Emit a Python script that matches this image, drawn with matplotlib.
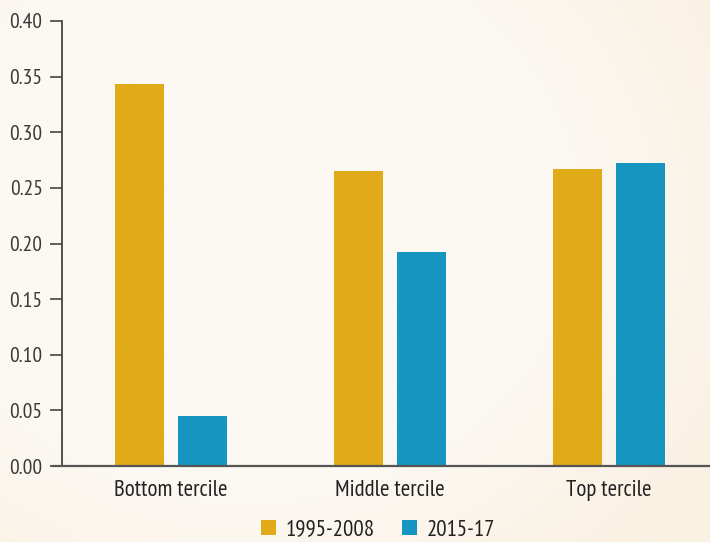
import matplotlib
matplotlib.use("Agg")
import matplotlib.pyplot as plt
import numpy as np

categories = ["Bottom tercile", "Middle tercile", "Top tercile"]
series_names = ["1995-2008", "2015-17"]
values_1995_2008 = [0.343, 0.265, 0.267]
values_2015_17 = [0.045, 0.192, 0.272]
yticks = [0.00, 0.05, 0.10, 0.15, 0.20, 0.25, 0.30, 0.35, 0.40]

plt.rcParams["font.family"] = ["PT Sans Narrow", "Open Sans Condensed", "DejaVu Sans"]

bg = "#FCF8F1"
gold = "#E0AA18"
blue = "#1695C0"

fig = plt.figure(figsize=(7.10, 5.42), dpi=100, facecolor=bg)

# subtle warm vignette background
bgax = fig.add_axes([0, 0, 1, 1], zorder=-10)
yy, xx = np.mgrid[0:1:200j, 0:1:260j]
r = np.clip(np.sqrt(((xx - 0.35) / 0.75) ** 2 + ((yy - 0.4) / 0.85) ** 2), 0, 1)
c0 = np.array([0xFC, 0xF8, 0xF2]) / 255
c1 = np.array([0xFA, 0xF1, 0xE3]) / 255
t = np.clip((r - 0.6) / 0.4, 0, 1)[..., None]
bgax.imshow(c0 * (1 - t) + c1 * t, extent=[0, 1, 0, 1], aspect="auto", origin="upper")
bgax.axis("off")

ax = fig.add_axes([62/710, 1-466/542, (710-62)/710, (466-21)/542])
ax.patch.set_alpha(0)

x = np.arange(len(categories))
w = 0.222
off = 0.144
ax.bar(x - off, values_1995_2008, w, color=gold, label=series_names[0])
ax.bar(x + off, values_2015_17, w, color=blue, label=series_names[1])

ax.set_xlim(-0.498, 2.461)
ax.set_ylim(0, 0.40)
ax.set_yticks(yticks)
ax.set_yticklabels([f"{v:.2f}" for v in yticks], fontsize=15.5, color="#3a3a3a")
ax.set_xticks(x)
ax.set_xticklabels(categories, fontsize=16.5, color="#222222")
ax.tick_params(axis="y", length=9, width=1.2, color="#444444", pad=5)
ax.tick_params(axis="x", length=0, pad=10)
for s in ["top", "right"]:
    ax.spines[s].set_visible(False)
ax.spines["left"].set_color("#444444")
ax.spines["left"].set_linewidth(1.3)
ax.spines["bottom"].set_color("#555555")
ax.spines["bottom"].set_linewidth(1.6)
ax.spines["bottom"].set_bounds(-0.498 - 9/219, 2.461)
ax.spines["bottom"].set_clip_on(False)

leg = fig.legend(loc="center", bbox_to_anchor=(378/710, 1-530/542), ncol=2, frameon=False,
                 fontsize=16.5, handlelength=0.66, handleheight=0.66, handletextpad=0.4,
                 columnspacing=1.2)
for t_ in leg.get_texts():
    t_.set_color("#222222")

fig.savefig("out.png", dpi=100, facecolor=bg)
